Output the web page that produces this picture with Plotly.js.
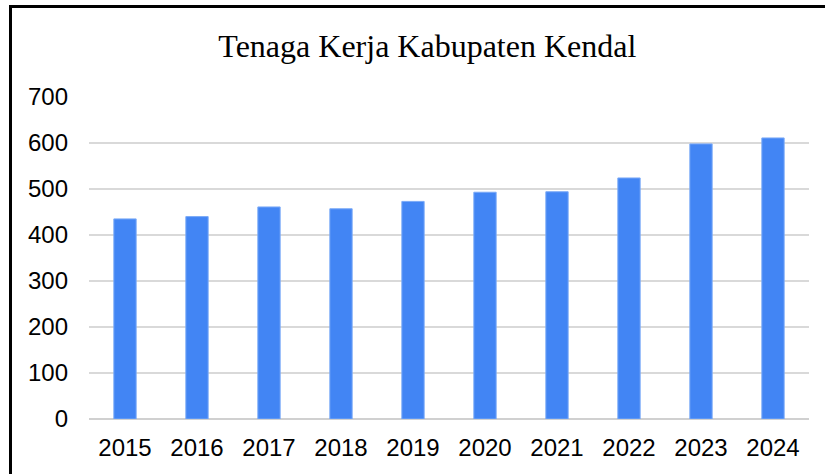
<!DOCTYPE html>
<html>
<head>
<meta charset="utf-8">
<script src="https://cdn.plot.ly/plotly-3.0.1.min.js"></script>
<style>
  html, body { margin: 0; padding: 0; background: #fff; overflow: hidden; }
  #chart { width: 825px; height: 474px; position: relative; }
  #frame { position: absolute; left: 9px; top: 5px; width: 900px; height: 600px;
           border: 3px solid #000; pointer-events: none; box-sizing: border-box; }
</style>
</head>
<body>
<div id="chart"></div>
<div id="frame"></div>
<script>
const years = ['2015','2016','2017','2018','2019','2020','2021','2022','2023','2024'];
const workers = [435, 440, 461, 457, 473, 493, 494, 524, 598, 611];
const yTicks = [0, 100, 200, 300, 400, 500, 600, 700];
const titleText = 'Tenaga Kerja Kabupaten Kendal';

Plotly.newPlot('chart', [{
  type: 'bar',
  x: years,
  y: workers,
  marker: { color: '#4285F4', line: { color: '#7baaf7', width: 1 } },
  hoverinfo: 'x+y'
}], {
  width: 825,
  height: 474,
  margin: { l: 88.5, r: 15.5, t: 97.3, b: 54.7 },
  paper_bgcolor: '#ffffff',
  plot_bgcolor: '#ffffff',
  bargap: 0.69,
  showlegend: false,
  title: {
    text: titleText,
    font: { family: 'Liberation Serif, Times New Roman, serif', size: 32, color: '#000' },
    x: 0.518, xref: 'container', xanchor: 'center',
    y: 0.903, yref: 'container', yanchor: 'middle'
  },
  xaxis: {
    type: 'category',
    tickfont: { family: 'Liberation Sans, Arial, sans-serif', size: 24, color: '#000' },
    showgrid: false,
    showline: false,
    ticks: '',
    ticklabelstandoff: 12
  },
  yaxis: {
    range: [0, 700],
    tickvals: yTicks,
    ticktext: yTicks.map(String),
    tickfont: { family: 'Liberation Sans, Arial, sans-serif', size: 24, color: '#000' },
    showgrid: true,
    gridcolor: '#d9d9d9',
    gridwidth: 1.6,
    zeroline: true,
    zerolinecolor: '#d0d0d0',
    zerolinewidth: 1.8,
    showline: false,
    ticks: '',
    ticklabelstandoff: 20
  }
}, { displayModeBar: false, staticPlot: true });
</script>
</body>
</html>
